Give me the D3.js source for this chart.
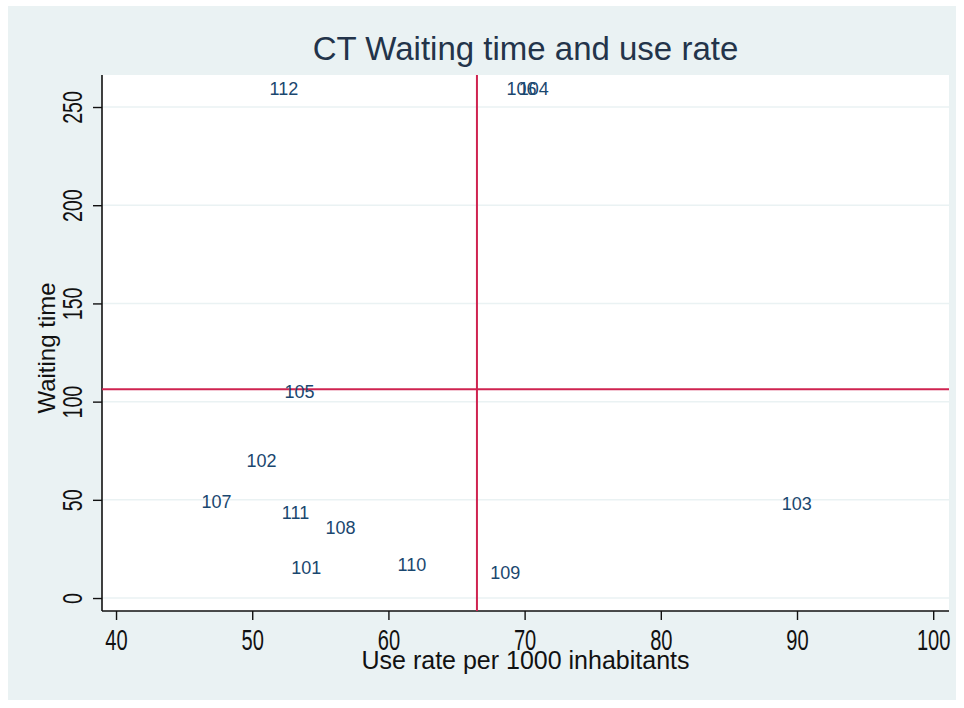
<!DOCTYPE html>
<html lang="en">
<head>
<meta charset="UTF-8">
<title>CT Waiting time and use rate</title>
<style>
  body { margin: 0; background: #fff; }
  text { font-family: "Liberation Sans", Arial, sans-serif; }
</style>
</head>
<body>
<script src="https://cdn.jsdelivr.net/npm/d3@7"></script>
<script>
// hospital ids, use rate and waiting time
const ids      = ["112", "106", "104", "105", "102", "107", "111", "108", "101", "110", "109", "103"]
const useRate  = [51.2, 68.6, 69.5, 52.3, 49.5, 46.2, 52.1, 55.3, 52.8, 60.6, 67.4, 88.8]
const waitTime = [259.2, 259.5, 259.5, 105.0, 69.8, 49.0, 43.3, 35.8, 15.4, 17.2, 12.9, 47.9]

const xTicks = [40, 50, 60, 70, 80, 90, 100]
const yTicks = [0, 50, 100, 150, 200, 250]

// reference lines
const refX = 66.5
const refY = 106.3

const m = { width: 964, height: 708 }
const plot = { left: 102, right: 949, top: 75, bottom: 611 }

const svg = d3.select("body").append("svg")
    .attr("width", m.width)
    .attr("height", m.height)

// outer background
svg.append("rect")
    .attr("x", 8).attr("y", 6)
    .attr("width", 948).attr("height", 694)
    .attr("fill", "#eaf2f3")

svg.append("rect")
    .attr("x", plot.left).attr("y", plot.top)
    .attr("width", plot.right - plot.left)
    .attr("height", plot.bottom - plot.top)
    .attr("fill", "#ffffff")

const x = d3.scaleLinear().domain([38.97, 101.16]).range([plot.left, plot.right])
const y = d3.scaleLinear().domain([-6.6, 266.3]).range([plot.bottom, plot.top])

// horizontal grid
svg.append("g")
  .selectAll("line")
  .data(yTicks)
  .enter()
  .append("line")
    .attr("x1", plot.left).attr("x2", plot.right)
    .attr("y1", d => y(d)).attr("y2", d => y(d))
    .attr("stroke", "#eaf2f3")
    .attr("stroke-width", 1.5)

// axes
const xAxis = svg.append("g")
    .attr("transform", `translate(0,${plot.bottom})`)
    .call(d3.axisBottom(x).tickValues(xTicks).tickSize(9).tickSizeOuter(0).tickFormat(d3.format("d")))

const yAxis = svg.append("g")
    .attr("transform", `translate(${plot.left},0)`)
    .call(d3.axisLeft(y).tickValues(yTicks).tickSize(9).tickSizeOuter(0).tickFormat(d3.format("d")))

svg.selectAll(".domain").attr("stroke", "#111").attr("stroke-width", 1.6)
svg.selectAll(".tick line").attr("stroke", "#111").attr("stroke-width", 1.4)

xAxis.selectAll(".domain").attr("d", `M${plot.left},0H${plot.right}`)
yAxis.selectAll(".domain").attr("d", `M0,${plot.top}V${plot.bottom}`)

xAxis.selectAll(".tick text")
    .attr("fill", "#111")
    .attr("font-size", 30)
    .attr("y", 0).attr("dy", 0)
    .attr("transform", "translate(0,39) scale(0.67,1)")

yAxis.selectAll(".tick text")
    .attr("fill", "#111")
    .attr("font-size", 28)
    .attr("x", 0).attr("dy", 0)
    .attr("text-anchor", "middle")
    .attr("transform", "translate(-20,0) rotate(-90) scale(0.7,1)")

// reference lines
svg.append("line")
    .attr("x1", x(refX)).attr("x2", x(refX))
    .attr("y1", plot.top).attr("y2", plot.bottom)
    .attr("stroke", "#cf2350").attr("stroke-width", 2)

svg.append("line")
    .attr("x1", plot.left).attr("x2", plot.right)
    .attr("y1", y(refY)).attr("y2", y(refY))
    .attr("stroke", "#cf2350").attr("stroke-width", 2)

// marker labels (no symbols)
svg.append("g")
  .selectAll("text")
  .data(ids)
  .enter()
  .append("text")
    .attr("x", (d, i) => x(useRate[i]) + 1)
    .attr("y", (d, i) => y(waitTime[i]))
    .attr("dy", "0.36em")
    .attr("font-family", "'DejaVu Sans', Verdana, sans-serif")
    .attr("font-size", 18)
    .attr("fill", "#1a476f")
    .text(d => d)

// titles
svg.append("text")
    .attr("x", (plot.left + plot.right) / 2)
    .attr("y", 60)
    .attr("text-anchor", "middle")
    .attr("font-size", 33)
    .attr("fill", "#23344a")
    .text("CT Waiting time and use rate")

svg.append("text")
    .attr("text-anchor", "middle")
    .attr("font-size", 25)
    .attr("fill", "#111")
    .attr("transform", `translate(${(plot.left + plot.right) / 2},669)`)
    .text("Use rate per 1000 inhabitants")

svg.append("text")
    .attr("text-anchor", "middle")
    .attr("font-size", 24)
    .attr("fill", "#111")
    .attr("transform", "translate(55,348) rotate(-90)")
    .text("Waiting time")
</script>
</body>
</html>
